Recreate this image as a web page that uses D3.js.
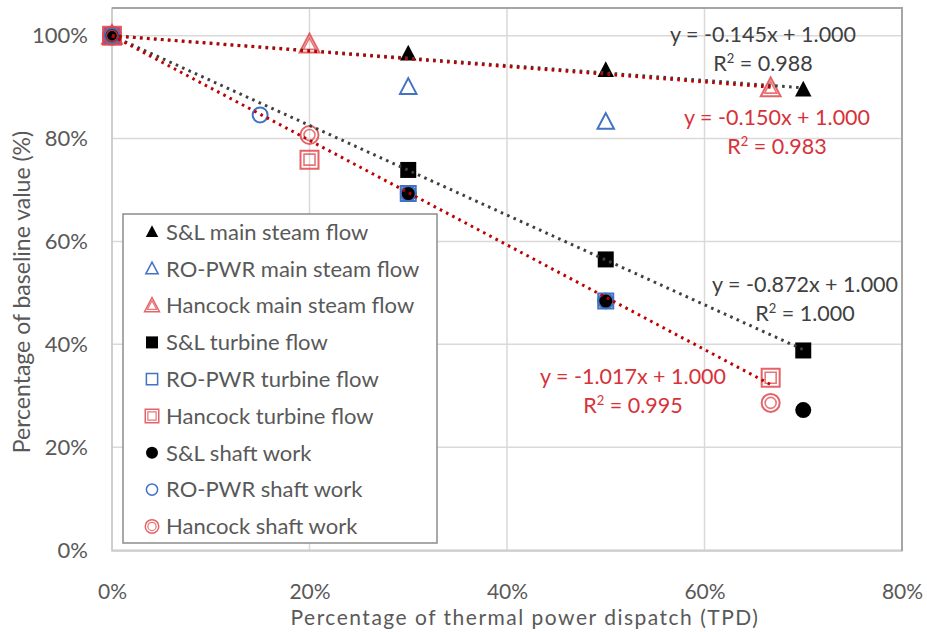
<!DOCTYPE html>
<html>
<head>
<meta charset="utf-8">
<script src="https://cdn.jsdelivr.net/npm/d3@7"></script>
<style>
  html, body { margin: 0; padding: 0; background: #fff; }
  svg { display: block; font-family: Lato, "Open Sans", sans-serif; }
</style>
</head>
<body>
<svg id="chart" width="927" height="632"></svg>
<script>
// Thermal power dispatch levels (fraction of rated thermal power)
const slX = [0, 0.30, 0.50, 0.70];
const roX = [0, 0.15, 0.30, 0.50];
const hcX = [0, 0.20, 0.667];

// Percentage of baseline value for each series
const slMainSteam = [1, 0.965, 0.933, 0.895];
const roMainSteam = [1, 0.900, 0.832];
const roMainSteamX = [0, 0.30, 0.50];
const hcMainSteam = [1, 0.983, 0.898];

const slTurbine = [1, 0.739, 0.565, 0.388];
const roTurbine = [1, 0.693, 0.484];
const roTurbineX = [0, 0.30, 0.50];
const hcTurbine = [1, 0.759, 0.335];

const slShaft = [1, 0.693, 0.484, 0.272];
const roShaft = [1, 0.846, 0.693, 0.484];
const hcShaft = [1, 0.807, 0.286];

// Linear trendlines (intercept fixed at 1.000)
const trendSlopes = [-0.145, -0.150, -0.872, -1.017];
const trendR2 = [0.988, 0.983, 1.000, 0.995];
const trendEnd = [0.70, 0.667, 0.70, 0.667];

const xTicks = [0, 0.2, 0.4, 0.6, 0.8];
const yTicks = [0, 0.2, 0.4, 0.6, 0.8, 1.0];

const legendLabels = [
  "S&L main steam flow", "RO-PWR main steam flow", "Hancock main steam flow",
  "S&L turbine flow", "RO-PWR turbine flow", "Hancock turbine flow",
  "S&L shaft work", "RO-PWR shaft work", "Hancock shaft work"
];

const BLACK = "#000000", BLUE = "#4472c4", RED = "#e0474c", RED_DARK = "#c00000", RED_TEXT = "#d6323a";
const TEXT = "#595959";

const svg = d3.select("#chart");
const plotL = 112, plotR = 902, plotT = 8, plotB = 551;

const x = d3.scaleLinear().domain([0, 0.8]).range([plotL, plotR]);
const y = d3.scaleLinear().domain([0, 1.05]).range([550, 10]);

// gridlines
const grid = svg.append("g");
grid.selectAll("line.h").data(yTicks).join("line")
  .attr("x1", plotL).attr("x2", plotR)
  .attr("y1", d => y(d)).attr("y2", d => y(d))
  .attr("stroke", "#d9d9d9").attr("stroke-width", 1.5);
grid.selectAll("line.v").data(xTicks).join("line")
  .attr("y1", plotT).attr("y2", plotB)
  .attr("x1", d => x(d)).attr("x2", d => x(d))
  .attr("stroke", "#d9d9d9").attr("stroke-width", 1.5);

// plot frame
svg.append("rect").attr("x", plotL).attr("y", plotT)
  .attr("width", plotR - plotL).attr("height", plotB - plotT)
  .attr("fill", "none").attr("stroke", "#c8c8c8").attr("stroke-width", 1.5);
svg.append("path")
  .attr("d", `M${plotL},${plotT}H${plotR}V${plotB}`)
  .attr("fill", "none").attr("stroke", "#a6a6a6").attr("stroke-width", 2);

// axes
const yAxis = d3.axisLeft(y).tickValues(yTicks).tickFormat(d3.format(".0%")).tickSize(0).tickPadding(24);
const xAxis = d3.axisBottom(x).tickValues(xTicks).tickFormat(d3.format(".0%")).tickSize(0).tickPadding(33);
const gy = svg.append("g").attr("transform", `translate(${plotL},0)`).call(yAxis);
const gx = svg.append("g").attr("transform", `translate(0,${plotB})`).call(xAxis);
gy.select(".domain").remove();
gx.select(".domain").remove();
gy.selectAll("text").attr("fill", TEXT).style("font-size", "22px").style("font-family", "Lato");
gx.selectAll("text").attr("fill", TEXT).style("font-size", "21px").style("font-family", "Lato");

// axis titles
svg.append("text").attr("x", (plotL + plotR) / 2 + 18).attr("y", 625)
  .attr("text-anchor", "middle").attr("fill", TEXT)
  .style("font-size", "21px").style("letter-spacing", "1.5px")
  .text("Percentage of thermal power dispatch (TPD)");
svg.append("text").attr("transform", "translate(30,292) rotate(-90)")
  .attr("text-anchor", "middle").attr("fill", TEXT).style("font-size", "23px")
  .text("Percentage of baseline value (%)");

// marker drawing
function marker(g, shape, style, cx, cy) {
  const t = g.append("g").attr("transform", `translate(${cx},${cy})`);
  const tri = s => `M0,${-s * 0.6}L${s * 0.55},${s * 0.45}L${-s * 0.55},${s * 0.45}Z`;
  const sq = s => `M${-s / 2},${-s / 2}h${s}v${s}h${-s}Z`;
  function shapePath(s) {
    if (shape === "tri") return tri(s);
    if (shape === "sq") return sq(s);
    const r = s / 2;
    return `M${r},0A${r},${r} 0 1,1 ${-r},0A${r},${r} 0 1,1 ${r},0Z`;
  }
  if (style === "black") {
    t.append("path").attr("d", shapePath(shape === "tri" ? 15 : 16)).attr("fill", BLACK);
  } else if (style === "blue") {
    t.append("path").attr("d", shapePath(15)).attr("fill", "none")
      .attr("stroke", BLUE).attr("stroke-width", 2);
  } else {
    t.append("path").attr("d", shapePath(18)).attr("fill", "none")
      .attr("stroke", RED).attr("stroke-width", 2).attr("stroke-opacity", 0.85);
    t.append("path").attr("d", shapePath(11)).attr("fill", "none")
      .attr("stroke", RED).attr("stroke-width", 1.6).attr("stroke-opacity", 0.75);
  }
}

const series = [
  { xs: slX, ys: slMainSteam, shape: "tri", style: "black" },
  { xs: roMainSteamX, ys: roMainSteam, shape: "tri", style: "blue" },
  { xs: hcX, ys: hcMainSteam, shape: "tri", style: "red" },
  { xs: slX, ys: slTurbine, shape: "sq", style: "black" },
  { xs: roTurbineX, ys: roTurbine, shape: "sq", style: "blue" },
  { xs: hcX, ys: hcTurbine, shape: "sq", style: "red" },
  { xs: slX, ys: slShaft, shape: "circ", style: "black" },
  { xs: roX, ys: roShaft, shape: "circ", style: "blue" },
  { xs: hcX, ys: hcShaft, shape: "circ", style: "red" }
];

const marks = svg.append("g");
series.forEach(s => {
  s.ys.forEach((v, i) => marker(marks, s.shape, s.style, x(s.xs[i]), y(v)));
});

// trendlines
const trendColors = ["#404040", RED_DARK, "#404040", RED_DARK];
const trends = svg.append("g");
trendSlopes.forEach((m, i) => {
  trends.append("line")
    .attr("x1", x(0)).attr("y1", y(1))
    .attr("x2", x(trendEnd[i])).attr("y2", y(1 + m * trendEnd[i]))
    .attr("stroke", trendColors[i]).attr("stroke-width", 3)
    .attr("stroke-dasharray", "2.6 4.4");
});

// trendline equations
const eqPos = [[763, 42], [777, 125], [805, 292], [633, 384]];
const eqColors = ["#404040", RED_TEXT, "#404040", RED_TEXT];
trendSlopes.forEach((m, i) => {
  const t = svg.append("text").attr("x", eqPos[i][0]).attr("y", eqPos[i][1])
    .attr("text-anchor", "middle").attr("fill", eqColors[i]).style("font-size", "21.5px");
  t.append("tspan").attr("x", eqPos[i][0]).text(`y = ${m.toFixed(3)}x + 1.000`);
  const t2 = t.append("tspan").attr("x", eqPos[i][0]).attr("dy", 29);
  t2.append("tspan").text("R");
  t2.append("tspan").attr("dy", -8).style("font-size", "13px").text("2");
  t2.append("tspan").attr("dy", 8).text(` = ${trendR2[i].toFixed(3)}`);
});

// legend
const lg = svg.append("g");
lg.append("rect").attr("x", 123).attr("y", 214).attr("width", 314).attr("height", 329)
  .attr("fill", "#fff").attr("stroke", "#8c8c8c").attr("stroke-width", 1.5);
legendLabels.forEach((label, i) => {
  const cy = 232 + i * 36.8;
  const s = series[i];
  const mg = lg.append("g").attr("transform", `translate(152,${cy}) scale(0.75)`);
  marker(mg, s.shape, s.style, 0, 0);
  lg.append("text").attr("x", 166).attr("y", cy).attr("dy", "0.35em")
    .attr("fill", TEXT).style("font-size", "22px").text(label);
});
</script>
</body>
</html>
